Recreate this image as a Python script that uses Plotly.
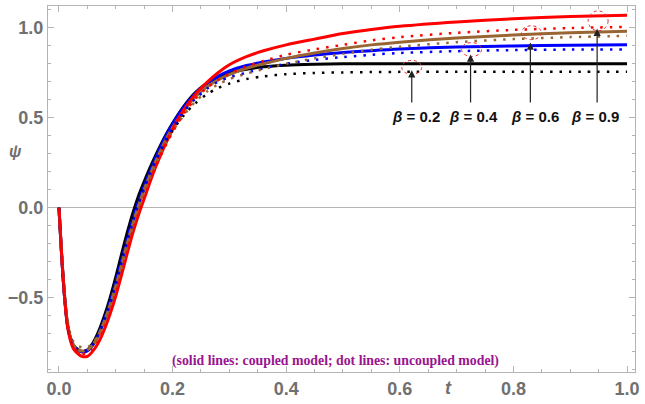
import plotly.graph_objects as go

t = [0, 0.005, 0.01, 0.015, 0.02, 0.025, 0.03, 0.04, 0.05, 0.06, 0.07, 0.08, 0.09, 0.1,
     0.11, 0.12, 0.13, 0.14, 0.15, 0.16, 0.17, 0.18, 0.19, 0.2, 0.22, 0.24, 0.26, 0.28, 0.3,
     0.33, 0.36, 0.4, 0.45, 0.5, 0.55, 0.6, 0.7, 0.8, 0.9, 1.0]

# coupled model (solid lines)
psi_b02 = [0.0, -0.28, -0.50, -0.65, -0.72, -0.76, -0.78, -0.80, -0.79, -0.75, -0.685, -0.60, -0.50, -0.385,
           -0.26, -0.14, -0.03, 0.065, 0.145, 0.22, 0.29, 0.355, 0.415, 0.47, 0.565, 0.64, 0.69, 0.725, 0.75,
           0.77, 0.783, 0.792, 0.797, 0.80, 0.80, 0.80, 0.80, 0.80, 0.80, 0.80]
psi_b04 = [0.0, -0.28, -0.50, -0.65, -0.725, -0.765, -0.785, -0.80, -0.795, -0.76, -0.70, -0.62, -0.525, -0.415,
           -0.295, -0.175, -0.065, 0.035, 0.12, 0.20, 0.275, 0.345, 0.41, 0.465, 0.56, 0.635, 0.69, 0.73, 0.76,
           0.79, 0.81, 0.83, 0.848, 0.862, 0.873, 0.882, 0.893, 0.899, 0.903, 0.905]
psi_b06 = [0.0, -0.27, -0.49, -0.64, -0.72, -0.76, -0.78, -0.795, -0.79, -0.76, -0.705, -0.63, -0.54, -0.435,
           -0.32, -0.20, -0.09, 0.01, 0.10, 0.18, 0.255, 0.325, 0.39, 0.445, 0.54, 0.615, 0.67, 0.71, 0.74,
           0.775, 0.80, 0.83, 0.86, 0.885, 0.905, 0.92, 0.943, 0.96, 0.972, 0.98]
psi_b09 = [0.0, -0.28, -0.50, -0.66, -0.735, -0.78, -0.80, -0.825, -0.825, -0.795, -0.745, -0.675, -0.59, -0.49,
           -0.375, -0.255, -0.14, -0.04, 0.05, 0.14, 0.225, 0.30, 0.37, 0.435, 0.545, 0.63, 0.695, 0.75, 0.795,
           0.84, 0.872, 0.905, 0.937, 0.968, 0.99, 1.008, 1.032, 1.05, 1.062, 1.07]

# uncoupled model (dotted lines)
psi_b02_u = [0.0, -0.27, -0.49, -0.645, -0.72, -0.76, -0.78, -0.795, -0.79, -0.755, -0.695, -0.615, -0.52, -0.41,
             -0.29, -0.17, -0.06, 0.035, 0.115, 0.19, 0.26, 0.325, 0.38, 0.43, 0.515, 0.58, 0.63, 0.665, 0.69,
             0.715, 0.73, 0.742, 0.749, 0.752, 0.754, 0.755, 0.755, 0.755, 0.755, 0.755]
psi_b04_u = [0.0, -0.27, -0.49, -0.645, -0.72, -0.76, -0.78, -0.795, -0.79, -0.76, -0.70, -0.625, -0.535, -0.43,
             -0.31, -0.19, -0.08, 0.02, 0.105, 0.185, 0.26, 0.33, 0.39, 0.445, 0.535, 0.605, 0.66, 0.70, 0.725,
             0.75, 0.775, 0.80, 0.822, 0.837, 0.85, 0.86, 0.87, 0.876, 0.879, 0.88]
psi_b06_u = [0.0, -0.26, -0.47, -0.62, -0.70, -0.74, -0.76, -0.775, -0.775, -0.75, -0.70, -0.63, -0.545, -0.445,
             -0.335, -0.215, -0.105, -0.005, 0.085, 0.165, 0.24, 0.31, 0.37, 0.425, 0.515, 0.59, 0.645, 0.685, 0.715,
             0.745, 0.77, 0.80, 0.83, 0.855, 0.878, 0.895, 0.92, 0.937, 0.948, 0.955]
psi_b09_u = [0.0, -0.27, -0.49, -0.65, -0.725, -0.77, -0.79, -0.81, -0.81, -0.785, -0.735, -0.665, -0.58, -0.48,
             -0.365, -0.245, -0.13, -0.03, 0.06, 0.145, 0.225, 0.295, 0.36, 0.42, 0.525, 0.605, 0.665, 0.71, 0.745,
             0.785, 0.815, 0.85, 0.88, 0.905, 0.93, 0.948, 0.972, 0.988, 0.998, 1.005]

beta_labels = ["0.2", "0.4", "0.6", "0.9"]
x_ticks = [0.0, 0.2, 0.4, 0.6, 0.8, 1.0]
y_ticks = [-0.5, 0.0, 0.5, 1.0]

colors = ["#000000", "#0000FF", "#996633", "#FF0000"]
solid = [psi_b02, psi_b04, psi_b06, psi_b09]
dotted = [psi_b02_u, psi_b04_u, psi_b06_u, psi_b09_u]

fig = go.Figure()
for ys, c, lab in zip(solid, colors, beta_labels):
    fig.add_trace(go.Scatter(x=t, y=ys, mode="lines", name="beta=" + lab + " coupled",
                             line=dict(color=c, width=3, shape="spline", smoothing=0.8)))
for ys, c, lab in zip(dotted, colors, beta_labels):
    fig.add_trace(go.Scatter(x=t, y=ys, mode="lines", name="beta=" + lab + " uncoupled",
                             line=dict(color=c, width=2.5, dash="2.5px,7px", shape="spline", smoothing=0.8)))

# helper: pixel -> data
def px2x(px):
    return (px - 59) / 570.0

def py2y(py):
    return (209 - py) / 182.0

arrow_px = [413, 472, 532, 599]
head_py = [70, 54, 42, 28]
label_px = [417, 475, 537, 597]
for ax_, hy, lx, lab in zip(arrow_px, head_py, label_px, beta_labels):
    fig.add_annotation(x=px2x(ax_), y=py2y(hy), ax=px2x(ax_), ay=py2y(104),
                       axref="x", ayref="y", xref="x", yref="y", text="",
                       showarrow=True, arrowhead=2, arrowsize=1.2, arrowwidth=1.2,
                       arrowcolor="#222222")
    fig.add_annotation(x=px2x(lx), y=py2y(117), xref="x", yref="y",
                       text="<b><i>\u03b2</i> = " + lab + "</b>",
                       showarrow=False, font=dict(family="Liberation Sans", size=15, color="#111111"))

circ = [(413, 67, 10, 7), (473, 49, 10, 7), (533, 32, 10, 7), (600, 20, 10, 10)]
for cx, cy, rx, ry in circ:
    fig.add_shape(type="circle", xref="x", yref="y",
                  x0=px2x(cx - rx), x1=px2x(cx + rx), y0=py2y(cy + ry), y1=py2y(cy - ry),
                  line=dict(color="#E03030", width=1, dash="3px,3px"))

fig.add_annotation(x=px2x(336), y=py2y(364), xref="x", yref="y",
                   text="<b>(solid lines: coupled model; dot lines: uncoupled model)</b>",
                   showarrow=False, font=dict(family="Liberation Serif", size=13.8, color="#99148F"))

fig.add_annotation(x=px2x(450), y=-0.045, xref="x", yref="paper", yanchor="middle",
                   text="<b><i>t</i></b>", showarrow=False,
                   font=dict(family="Liberation Sans", size=18, color="#707070"))
fig.add_annotation(x=-0.056, y=py2y(152), xref="paper", yref="y", xanchor="center",
                   text="<b><i>\u03c8</i></b>", showarrow=False,
                   font=dict(family="Liberation Sans", size=16, color="#707070"))

axis_common = dict(showgrid=False, showline=True, linecolor="#b4b4b4", linewidth=1,
                   mirror="ticks", ticks="inside", ticklen=6, tickcolor="#b4b4b4", tickwidth=1,
                   tickfont=dict(family="Liberation Sans", size=18, color="#707070", weight="bold"),
                   tickformat=".1f")

fig.update_xaxes(range=[px2x(48), px2x(637)], tickvals=x_ticks, zeroline=False,
                 minor=dict(ticks="inside", ticklen=3, tickcolor="#b4b4b4", dtick=0.05, tick0=0),
                 **axis_common)
fig.update_yaxes(range=[py2y(375), py2y(5)], tickvals=y_ticks, zeroline=True,
                 zerolinecolor="#b4b4b4", zerolinewidth=1,
                 minor=dict(ticks="inside", ticklen=3, tickcolor="#b4b4b4", dtick=0.1, tick0=0),
                 **axis_common)

fig.update_layout(width=645, height=404, margin=dict(l=48, r=8, t=5, b=29),
                  plot_bgcolor="white", paper_bgcolor="white", showlegend=False)

fig.write_html("out.html")
